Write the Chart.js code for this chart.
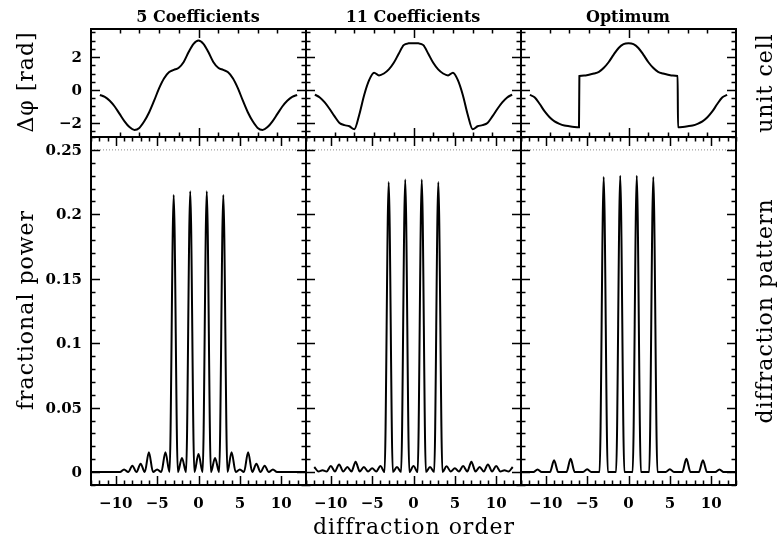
<!DOCTYPE html>
<html>
<head>
<meta charset="utf-8">
<script src="https://cdn.jsdelivr.net/npm/chart.js@4.4.1/dist/chart.umd.min.js"></script>
<style>
  body { margin: 0; background: #fff; }
  #wrap { position: relative; width: 779px; height: 543px; overflow: hidden; }
  #wrap canvas { position: absolute; left: 0; top: 0; }
  .lbl { position: absolute; font-family: "DejaVu Serif", serif; color: #000; white-space: nowrap;
         transform: translate(-50%, -50%); }
  .ttl { font-size: 16px; font-weight: bold; }
  .big { font-size: 22px; letter-spacing: 1px; }
  .rot { transform: translate(-50%, -50%) rotate(-90deg); }
</style>
</head>
<body>
<div id="wrap">
  <canvas id="c0" width="779" height="543"></canvas>
  <canvas id="c1" width="779" height="543"></canvas>
  <canvas id="c2" width="779" height="543"></canvas>
  <canvas id="c3" width="779" height="543"></canvas>
  <canvas id="c4" width="779" height="543"></canvas>
  <canvas id="c5" width="779" height="543"></canvas>

  <div class="lbl ttl" style="left:198px; top:16px;">5 Coefficients</div>
  <div class="lbl ttl" style="left:413px; top:16px;">11 Coefficients</div>
  <div class="lbl ttl" style="left:628px; top:16px;">Optimum</div>
  <div class="lbl big rot" style="left:25px; top:82px;">&Delta;&phi; [rad]</div>
  <div class="lbl big rot" style="left:25px; top:310px;">fractional power</div>
  <div class="lbl big" style="left:414px; top:526px;">diffraction order</div>
  <div class="lbl big rot" style="left:764px; top:83px;">unit cell</div>
  <div class="lbl big rot" style="left:764px; top:311px;">diffraction pattern</div>
</div>

<script>
// ---- unit cell phase profiles (position within cell, phase in rad) ----
var cellX = [-0.5, -0.475, -0.45, -0.425, -0.4, -0.375, -0.35, -0.325, -0.3, -0.275, -0.25,
             -0.225, -0.2, -0.175, -0.15, -0.125, -0.1, -0.075, -0.05, -0.025, 0,
             0.025, 0.05, 0.075, 0.1, 0.125, 0.15, 0.175, 0.2, 0.225,
             0.25, 0.275, 0.3, 0.325, 0.35, 0.375, 0.4, 0.425, 0.45, 0.475, 0.5];

var phase5 = [-0.3, -0.42, -0.65, -1.0, -1.45, -1.9, -2.25, -2.42, -2.3, -1.9, -1.35,
              -0.65, 0.1, 0.7, 1.08, 1.22, 1.35, 1.7, 2.3, 2.8, 3.0,
              2.8, 2.3, 1.7, 1.35, 1.22, 1.08, 0.7, 0.1, -0.65,
              -1.35, -1.9, -2.3, -2.42, -2.25, -1.9, -1.45, -1.0, -0.65, -0.42, -0.3];

var phase11 = [-0.28, -0.45, -0.75, -1.15, -1.6, -2.0, -2.13, -2.2, -2.38, -1.5, -0.3,
               0.6, 1.05, 0.88, 1.0, 1.25, 1.65, 2.2, 2.72, 2.83, 2.84,
               2.83, 2.72, 2.2, 1.65, 1.25, 1.0, 0.88, 1.05, 0.6,
               -0.3, -1.5, -2.38, -2.2, -2.13, -2.0, -1.6, -1.15, -0.75, -0.45, -0.28];

var optX = [-0.5, -0.475, -0.45, -0.425, -0.4, -0.375, -0.35, -0.325, -0.3, -0.275, -0.251,
            -0.249, -0.225, -0.2, -0.175, -0.15, -0.125, -0.1, -0.075, -0.05, -0.025, 0,
            0.025, 0.05, 0.075, 0.1, 0.125, 0.15, 0.175, 0.2, 0.225, 0.249,
            0.251, 0.275, 0.3, 0.325, 0.35, 0.375, 0.4, 0.425, 0.45, 0.475, 0.5];
var phaseOpt = [-0.3, -0.45, -0.85, -1.3, -1.65, -1.9, -2.05, -2.15, -2.2, -2.24, -2.26,
                0.85, 0.88, 0.93, 1.0, 1.1, 1.35, 1.7, 2.15, 2.55, 2.78, 2.83,
                2.78, 2.55, 2.15, 1.7, 1.35, 1.1, 1.0, 0.93, 0.88, 0.85,
                -2.26, -2.24, -2.2, -2.15, -2.05, -1.9, -1.65, -1.3, -0.85, -0.45, -0.3];

// ---- diffraction patterns, sampled every half order from -13 to 13 ----
var orders = [-13, -12.5, -12, -11.5, -11, -10.5, -10, -9.5, -9, -8.5, -8, -7.5, -7, -6.5,
              -6, -5.5, -5, -4.5, -4, -3.5, -3, -2.5, -2, -1.5, -1, -0.5, 0,
              0.5, 1, 1.5, 2, 2.5, 3, 3.5, 4, 4.5, 5, 5.5, 6, 6.5, 7,
              7.5, 8, 8.5, 9, 9.5, 10, 10.5, 11, 11.5, 12, 12.5, 13];

var power5 = [0, 0, 0, 0, 0, 0, 0, 0, 0.002, 0, 0.005, 0, 0.0065, 0,
              0.0155, 0, 0.002, 0, 0.0155, 0, 0.215, 0, 0.011, 0, 0.218, 0, 0.014,
              0, 0.218, 0, 0.011, 0, 0.215, 0, 0.0155, 0, 0.002, 0, 0.0155, 0, 0.0065,
              0, 0.005, 0, 0.002, 0, 0, 0, 0, 0, 0, 0, 0];

var power11 = [null, null, 0.004, 0.0005, 0.0015, 0.0005, 0.0047, 0.0005, 0.006, 0.0005, 0.004, 0.0005, 0.008, 0.0005,
               0.004, 0.0005, 0.003, 0.0005, 0.0047, 0, 0.225, 0, 0.004, 0, 0.227, 0, 0.0047,
               0, 0.227, 0, 0.004, 0, 0.225, 0, 0.0045, 0.0005, 0.003, 0.0005, 0.0047, 0.0005, 0.008,
               0.0005, 0.004, 0.0005, 0.006, 0.0005, 0.0047, 0.0005, 0.0015, 0.0005, 0.004, null, null];

var powerOpt = [0, 0, 0, 0, 0.002, 0, 0, 0, 0.0092, 0, 0, 0, 0.0103, 0,
                0, 0, 0.0023, 0, 0, 0, 0.229, 0, 0, 0, 0.23, 0, 0,
                0, 0.23, 0, 0, 0, 0.229, 0, 0, 0, 0.0023, 0, 0, 0, 0.0103,
                0, 0, 0, 0.0092, 0, 0, 0, 0.002, 0, 0, 0, 0];

var fullPowerLevel = 0.25;   // dotted reference line

// ---- tick labels ----
var phaseTickVals = [-2, 0, 2];
var phaseTickText = ['\u22122', '0', '2'];
var powerTickVals = [0, 0.05, 0.1, 0.15, 0.2, 0.25];
var powerTickText = ['0', '0.05', '0.1', '0.15', '0.2', '0.25'];
var orderTickVals = [-10, -5, 0, 5, 10];
var orderTickText = ['\u221210', '\u22125', '0', '5', '10'];

// panel edges in pixels
var colEdges = [91, 306, 521, 736];
var rowEdges = [29, 137, 485];
var W = 779, H = 543;

function range(a, b, step, majorEvery) {
  var out = [];
  var n = Math.round((b - a) / step);
  for (var i = 0; i <= n; i++) {
    var v = +(a + i * step).toFixed(6);
    out.push({ v: v, major: majorEvery ? Math.abs(v / majorEvery - Math.round(v / majorEvery)) < 1e-6 : false });
  }
  return out;
}

var cellXTicks = range(-0.4, 0.4, 0.1, 0).map(function (t) { t.major = Math.abs(t.v) < 1e-6; return t; });
var phaseYTicks = range(-2.5, 3.5, 0.5, 2);
var orderXTicks = range(-13, 13, 1, 5);
var powerYTicks = range(-0.01, 0.26, 0.01, 0.05);

// draws the frame, inward ticks and tick labels from the chart's own scales
var framePlugin = {
  id: 'frame',
  afterDatasetsDraw: function (chart, args, o) {
    var ctx = chart.ctx, a = chart.chartArea;
    var xs = chart.scales.x, ys = chart.scales.y;
    ctx.save();
    ctx.strokeStyle = '#000';
    ctx.lineWidth = 1.5;
    ctx.beginPath();
    o.xTicks.forEach(function (t) {
      var p = Math.round(xs.getPixelForValue(t.v)) + 0.5, L = t.major ? 9 : 4.5;
      ctx.moveTo(p, a.bottom); ctx.lineTo(p, a.bottom - L);
      ctx.moveTo(p, a.top); ctx.lineTo(p, a.top + L);
    });
    o.yTicks.forEach(function (t) {
      var p = Math.round(ys.getPixelForValue(t.v)) + 0.5, L = t.major ? 9 : 4.5;
      ctx.moveTo(a.left, p); ctx.lineTo(a.left + L, p);
      ctx.moveTo(a.right, p); ctx.lineTo(a.right - L, p);
    });
    ctx.stroke();
    ctx.lineWidth = 2;
    ctx.strokeRect(a.left, a.top, a.right - a.left, a.bottom - a.top);

    ctx.fillStyle = '#000';
    ctx.font = 'bold 15px "DejaVu Serif"';
    if (o.yLabels) {
      ctx.textAlign = 'right';
      ctx.textBaseline = 'middle';
      o.yLabels.vals.forEach(function (v, i) {
        ctx.fillText(o.yLabels.text[i], a.left - 9, ys.getPixelForValue(v) + 1);
      });
    }
    if (o.xLabels) {
      ctx.textAlign = 'center';
      ctx.textBaseline = 'top';
      o.xLabels.vals.forEach(function (v, i) {
        ctx.fillText(o.xLabels.text[i], xs.getPixelForValue(v), a.bottom + 12);
      });
    }
    ctx.restore();
  }
};

function pairs(xArr, yArr) {
  return xArr.map(function (x, i) { return { x: x, y: yArr[i] }; });
}

function makePanel(id, col, row, datasets, cfg) {
  var pad = {
    left: colEdges[col],
    right: W - colEdges[col + 1],
    top: rowEdges[row],
    bottom: H - rowEdges[row + 1]
  };
  return new Chart(document.getElementById(id), {
    type: 'line',
    data: { datasets: datasets },
    plugins: [framePlugin],
    options: {
      responsive: false,
      animation: false,
      events: [],
      layout: { padding: pad },
      elements: { point: { radius: 0 } },
      scales: {
        x: { type: 'linear', display: false, min: cfg.xMin, max: cfg.xMax },
        y: { type: 'linear', display: false, min: cfg.yMin, max: cfg.yMax }
      },
      plugins: {
        legend: { display: false },
        tooltip: { enabled: false },
        frame: cfg.frame
      }
    }
  });
}

function phaseSet(xArr, yArr) {
  return {
    data: pairs(xArr, yArr), borderColor: '#000', borderWidth: 2,
    cubicInterpolationMode: 'monotone', fill: false
  };
}
function powerSet(yArr) {
  return {
    data: pairs(orders, yArr), borderColor: '#000', borderWidth: 2,
    cubicInterpolationMode: 'monotone', spanGaps: false, fill: false
  };
}
function refLine() {
  return {
    data: [{ x: -13, y: fullPowerLevel }, { x: 13, y: fullPowerLevel }],
    borderColor: '#888', borderWidth: 1, borderDash: [1, 2], fill: false
  };
}

var topCfg = function (first) {
  return {
    xMin: -0.545, xMax: 0.545, yMin: -2.85, yMax: 3.7,
    frame: {
      xTicks: cellXTicks, yTicks: phaseYTicks,
      yLabels: first ? { vals: phaseTickVals, text: phaseTickText } : null
    }
  };
};
var botCfg = function (first) {
  return {
    xMin: -13, xMax: 13, yMin: -0.01, yMax: 0.26,
    frame: {
      xTicks: orderXTicks, yTicks: powerYTicks,
      yLabels: first ? { vals: powerTickVals, text: powerTickText } : null,
      xLabels: { vals: orderTickVals, text: orderTickText }
    }
  };
};

makePanel('c0', 0, 0, [phaseSet(cellX, phase5)], topCfg(true));
makePanel('c1', 1, 0, [phaseSet(cellX, phase11)], topCfg(false));
makePanel('c2', 2, 0, [phaseSet(optX, phaseOpt)], topCfg(false));
makePanel('c3', 0, 1, [refLine(), powerSet(power5)], botCfg(true));
makePanel('c4', 1, 1, [refLine(), powerSet(power11)], botCfg(false));
makePanel('c5', 2, 1, [refLine(), powerSet(powerOpt)], botCfg(false));
</script>
</body>
</html>
